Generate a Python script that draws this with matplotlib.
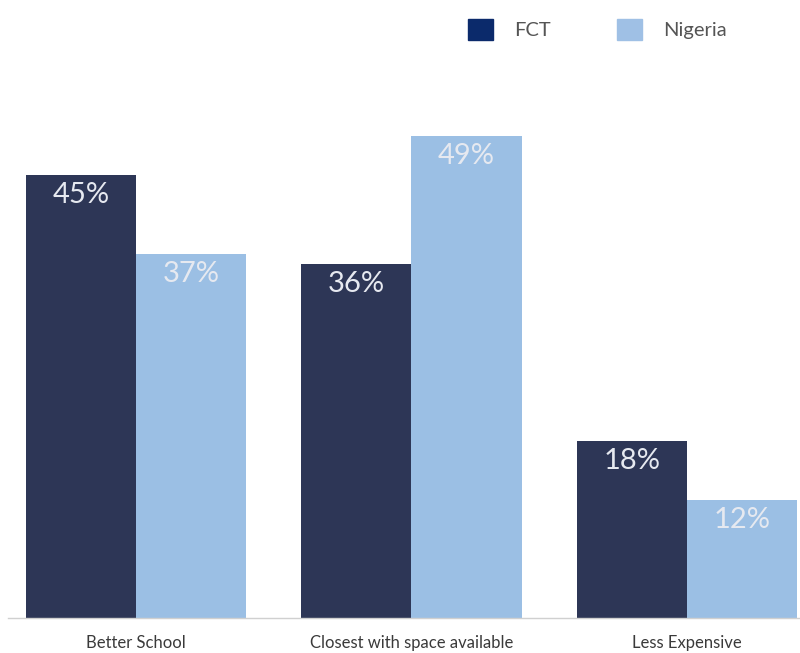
import matplotlib
matplotlib.use("Agg")
import matplotlib.pyplot as plt
from matplotlib.patches import Patch
import numpy as np

categories = ["Better School", "Closest with space available", "Less Expensive"]
fct = [45, 36, 18]
nigeria = [37, 49, 12]
series_names = ["FCT", "Nigeria"]

plt.rcParams['font.family'] = ['Lato', 'DejaVu Sans']

fig = plt.figure(figsize=(8, 6.53), dpi=100)
ax = fig.add_axes([0.01, 0.0536, 0.99, 0.904])

x = np.arange(len(categories))
w = 0.4
c_fct = "#2d3656"
c_nig = "#9bbfe4"
b1 = ax.bar(x - w/2, fct, w, color=c_fct)
b2 = ax.bar(x + w/2, nigeria, w, color=c_nig)

for bars, vals in ((b1, fct), (b2, nigeria)):
    for r, v in zip(bars, vals):
        ax.annotate(f"{v}%", (r.get_x() + r.get_width()/2, v),
                    xytext=(0, -5), textcoords="offset points",
                    ha="center", va="top", fontsize=21, fontweight="normal",
                    color="#e6e9f0")

ax.set_xlim(-0.464, 2.41)
ax.set_ylim(0, 60)
ax.set_xticks(x)
ax.set_xticklabels(categories, fontsize=12, color="#3a3a3a")
ax.tick_params(axis="x", length=0, pad=12)
ax.set_yticks([])
for s in ("top", "right", "left"):
    ax.spines[s].set_visible(False)
ax.spines["bottom"].set_color("#d0d0d0")
ax.spines["bottom"].set_linewidth(1)

handles = [Patch(color="#0b2a6b"), Patch(color="#9fc0e5")]
fig.legend(handles, series_names, loc="center left", bbox_to_anchor=(0.585, 0.955),
           ncol=2, frameon=False, fontsize=14.5, handlelength=1.24, handleheight=1.24,
           handletextpad=1.04, columnspacing=3.3, borderpad=0, borderaxespad=0,
           labelcolor="#555555")

fig.savefig("out.png", dpi=100)
